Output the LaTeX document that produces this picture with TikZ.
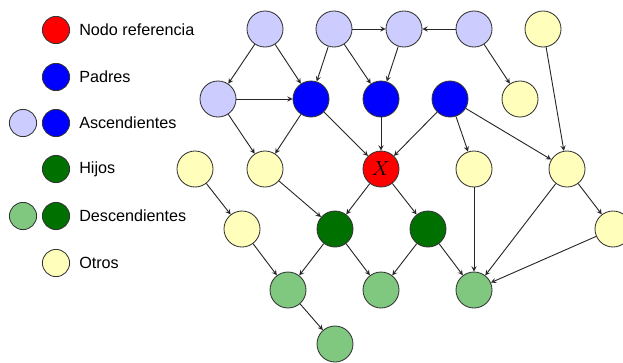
\documentclass[tikz,border=0pt]{standalone}
\usepackage{fontspec}
\setmainfont{Liberation Sans}
\usepackage{tikz}
\usetikzlibrary{arrows}
\definecolor{azulclaro}{RGB}{204,204,255}
\definecolor{verdeoscuro}{RGB}{0,112,0}
\definecolor{verdeclaro}{RGB}{128,200,128}
\definecolor{amarillo}{RGB}{255,255,187}
\tikzset{
    nodo/.style={ % Sets the properties for each node
        circle,
        draw=black!80,
        line width=0.6pt,
        minimum size=0.9cm,
        inner sep=0pt
    },
    leyenda/.style={nodo, minimum size=0.68cm}, % Smaller circles in the legend
    texto/.style={anchor=west, font=\fontsize{11.5}{14}\selectfont, inner sep=0pt},
    referencia/.style={fill=red},
    padre/.style={fill=blue},
    ascendiente/.style={fill=azulclaro},
    hijo/.style={fill=verdeoscuro},
    descendiente/.style={fill=verdeclaro},
    otro/.style={fill=amarillo},
    every edge/.style={ % Sets the properties for each arc
        draw,
        ->,>=stealth, % Directed arcs
        line width=0.65pt,
        black!85
    }
}
\begin{document}
\begin{tikzpicture}[x=0.025cm, y=-0.025cm]
    \useasboundingbox (0,0) rectangle (623,362);
    % legend
    \node[leyenda, referencia]   (lr)  at (56,30)  {};
    \node[leyenda, padre]        (lp)  at (56,77)  {};
    \node[leyenda, ascendiente]  (la1) at (23,123) {};
    \node[leyenda, padre]        (la2) at (56,123) {};
    \node[leyenda, hijo]         (lh)  at (56,169) {};
    \node[leyenda, descendiente] (ld1) at (23,216) {};
    \node[leyenda, hijo]         (ld2) at (56,216) {};
    \node[leyenda, otro]         (lo)  at (56,263) {};
    \node[texto] (tr) at (79,30)  {Nodo referencia};
    \node[texto] (tp) at (79,77)  {Padres};
    \node[texto] (ta) at (79,123) {Ascendientes};
    \node[texto] (th) at (79,169) {Hijos};
    \node[texto] (td) at (79,216) {Descendientes};
    \node[texto] (to) at (79,263) {Otros};
    % graph
    \node[nodo, ascendiente]  (a1) at (265,29)  {};
    \node[nodo, ascendiente]  (a2) at (334,29)  {};
    \node[nodo, ascendiente]  (a3) at (404,29)  {};
    \node[nodo, ascendiente]  (a4) at (474,29)  {};
    \node[nodo, otro]         (o1) at (543,29)  {};
    \node[nodo, ascendiente]  (a5) at (218,99)  {};
    \node[nodo, padre]        (p1) at (311,99)  {};
    \node[nodo, padre]        (p2) at (381,99)  {};
    \node[nodo, padre]        (p3) at (450,99)  {};
    \node[nodo, otro]         (o2) at (520,99)  {};
    \node[nodo, otro]         (o3) at (195,169) {};
    \node[nodo, otro]         (o4) at (265,169) {};
    \node[nodo, referencia]   (x)  at (381,169) {\fontsize{14}{16}\selectfont $X$};
    \node[nodo, otro]         (o5) at (474,169) {};
    \node[nodo, otro]         (o6) at (567,169) {};
    \node[nodo, otro]         (o7) at (242,229) {};
    \node[nodo, hijo]         (h1) at (335,229) {};
    \node[nodo, hijo]         (h2) at (428,229) {};
    \node[nodo, otro]         (o8) at (613,229) {};
    \node[nodo, descendiente] (d1) at (288,290) {};
    \node[nodo, descendiente] (d2) at (381,290) {};
    \node[nodo, descendiente] (d3) at (474,290) {};
    \node[nodo, descendiente] (d4) at (335,344) {};
    \draw   (a1) edge (a5)
            (a1) edge (p1)
            (a2) edge (a3)
            (a4) edge (a3)
            (a2) edge (p1)
            (a2) edge (p2)
            (a3) edge (p2)
            (a4) edge (o2)
            (o1) edge (o6)
            (a5) edge (p1)
            (a5) edge (o4)
            (p1) edge (o4)
            (p1) edge (x)
            (p2) edge (x)
            (p3) edge (x)
            (p3) edge (o5)
            (p3) edge (o6)
            (o3) edge (o7)
            (o4) edge (h1)
            (x)  edge (h1)
            (x)  edge (h2)
            (o7) edge (d1)
            (h1) edge (d1)
            (h1) edge (d2)
            (h2) edge (d2)
            (h2) edge (d3)
            (o5) edge (d3)
            (o6) edge (d3)
            (o6) edge (o8)
            (o8) edge (d3)
            (d1) edge (d4);
\end{tikzpicture}
\end{document}
